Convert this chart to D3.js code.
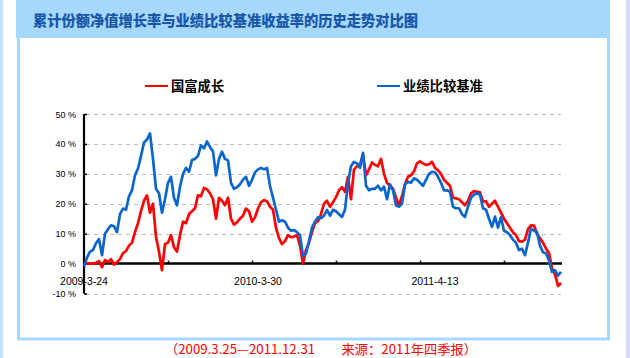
<!DOCTYPE html>
<html><head><meta charset="utf-8">
<script src="https://cdn.jsdelivr.net/npm/d3@7"></script>
<style>body{margin:0;background:#fff;overflow:hidden}svg{display:block}</style>
</head><body><svg id="c" width="630" height="358"></svg>
<script>
const titleText = "累计份额净值增长率与业绩比较基准收益率的历史走势对比图";
const seriesNames = ["国富成长", "业绩比较基准"];
const footnote = "（2009.3.25—2011.12.31　　来源：2011年四季报）";
const yTicks = [-10, 0, 10, 20, 30, 40, 50];
const xTickLabels = ["2009-3-24", "2010-3-30", "2011-4-13"];
const xTickLabelIndex = [0, 58, 117];
const xTickIndex = [0, 28, 56, 84, 112, 140];

const fundValues = [
0,0,0,0,0.3,0.8,-1.2,1.2,0.5,1.5,-0.3,0.5,1.5,3.5,4.2,6,7,10.5,13.5,17.5,
21,22.8,17,20,9,4,-2.2,6.5,7,9.5,5.5,4,9.5,14,13.5,16.5,17.5,18.5,22.8,22.5,
25.3,24.8,23.5,21.5,15,22,21,19.5,22,15,13,13.8,15,16,18.4,17.5,14,15.5,18.4,20.5,
21.2,20.8,19,18,12,8.5,6.5,7.5,9.5,8.8,9,9.5,6,0,4.5,7,10.5,13.5,14.2,16.5,
20,21,19,20.5,22.2,24.5,25.5,24,29,21.5,31.5,32.5,33,36.5,29.5,31.5,33.8,33,32.5,35,
30,27,26,25,22,19.5,22.5,26.5,29,29.5,30.8,33.5,34.2,33.5,33,33.2,34,32,31.2,30,
28,27,26,22,21.8,21.5,20.5,19.5,21,23.5,24.2,24,23.8,20.8,20.8,19,20,21,19,17,
15,13.5,12,10.5,9.5,7.5,7.3,8,11.5,12.8,12.7,10,8.5,7,5,3.5,-1.5,-3.5,-7.5,-6.5
];
const benchValues = [
-1,2,4,4.5,6.8,8.2,2.8,10,11.5,12.8,12.5,10.5,16.5,18.4,18,22.5,24.5,29.5,31.8,36,
40.5,41.5,43.5,35,25,23.5,17,21.5,27,29,22,19.5,25.7,30,32,30.7,34.6,35,36,39.5,
38.5,40.8,39,37.5,29.5,35,37.4,35,34.5,27,25,25.5,26.5,28,29,26,28,30.5,31.5,32,
31.5,32,26,22,18,14,14.5,14,12,11,11.2,10.5,9.5,2.5,3.3,7.5,12,14,15.5,15.2,
16,17.9,16,18,17.5,16.5,15.6,18,27,32.5,34,33.5,32,37,26,24.5,25,25,26,24.5,
25.7,21.5,26.5,24.5,19.5,19,20,26.5,27.3,27,28.5,28,27,26,28,30,30.7,30.5,29,27,
24.5,24.5,24,19,18.5,18.5,16.5,15.6,19,22,23,23.5,23,18.5,18,15,12.3,15.7,12,15.5,
11,10.5,9.5,8,6.9,4.5,5,2.8,7,11.7,11,10.5,6,3.8,3.4,1,-2.8,-2.2,-4,-2.8
];

const svg = d3.select("#c");
const lightBlue = "#a6d7fc";

// outer stripes
svg.append("rect").attr("x",0).attr("y",0).attr("width",3).attr("height",358).attr("fill","#c4e2fb");
svg.append("rect").attr("x",626).attr("y",0).attr("width",4).attr("height",358).attr("fill","#d2dcf6");

// panel
svg.append("rect").attr("x",18.5).attr("y",36).attr("width",590).attr("height",303)
  .attr("fill","#fff").attr("stroke",lightBlue).attr("stroke-width",3);
// title bar
svg.append("rect").attr("x",16).attr("y",0).attr("width",594).attr("height",38).attr("fill",lightBlue);
svg.append("text").attr("x",33).attr("y",26).text(titleText)
  .attr("font-family","'Noto Sans CJK SC', sans-serif").attr("font-weight","900")
  .attr("font-size",14.5).attr("fill","#1a57a8")
  .attr("textLength",385).attr("lengthAdjust","spacingAndGlyphs");

// scales
const n = fundValues.length;
const x = d3.scaleLinear().domain([0, n-1]).range([84, 561]);
const y = d3.scaleLinear().domain([-10, 50]).range([293.5, 114]);

// gridlines
const g = svg.append("g");
g.selectAll("line.grid").data(yTicks.filter(v => v !== 0)).join("line")
  .attr("x1", 86).attr("x2", 561)
  .attr("y1", d => Math.round(y(d)) + 0.5).attr("y2", d => Math.round(y(d)) + 0.5)
  .attr("stroke", "#bdbdbd").attr("stroke-width", 1).attr("stroke-dasharray", "4,4");

// y axis
const yAxis = d3.axisRight(y).tickValues(yTicks).tickSize(3).tickFormat("");
const ya = svg.append("g").attr("transform","translate(84,0)").call(yAxis);
ya.select(".domain").attr("stroke","#000").attr("stroke-width",2.2).attr("d","M0,"+y(50)+"V"+y(-10));
ya.selectAll(".tick line").attr("stroke","#000").attr("stroke-width",1.5);
svg.append("g").selectAll("text").data(yTicks).join("text")
  .attr("x", 76).attr("y", d => y(d) + 3.5).attr("text-anchor","end")
  .attr("font-family","Arial, 'Liberation Sans', sans-serif").attr("font-size",9)
  .attr("fill","#000").text(d => d + " %");

// x axis
const xAxis = d3.axisTop(x).tickValues(xTickIndex).tickSize(3).tickFormat("");
const xa = svg.append("g").attr("transform","translate(0," + y(0) + ")").call(xAxis);
xa.select(".domain").attr("stroke","#000").attr("stroke-width",2.5).attr("d","M84,0H562");
xa.selectAll(".tick line").attr("stroke","#000").attr("stroke-width",1.5);
svg.append("g").selectAll("text").data(xTickLabels).join("text")
  .attr("x", (d,i) => x(xTickLabelIndex[i])).attr("y", 284.5).attr("text-anchor","middle")
  .attr("font-family","Arial, 'Liberation Sans', sans-serif").attr("font-size",10.5)
  .attr("fill","#000").text(d => d);

// lines
const line = d3.line().x((d,i) => x(i)).y(d => y(d));
svg.append("path").datum(fundValues).attr("d", line)
  .attr("fill","none").attr("stroke","#ff0000").attr("stroke-width",2.7).attr("stroke-linejoin","round");
svg.append("path").datum(benchValues).attr("d", line)
  .attr("fill","none").attr("stroke","#0a66cc").attr("stroke-width",2.7).attr("stroke-linejoin","round");

// legend
const legend = [
  {name: seriesNames[0], color: "#ff0000", x0: 145},
  {name: seriesNames[1], color: "#0a66cc", x0: 377}
];
const lg = svg.append("g").selectAll("g").data(legend).join("g");
lg.append("line").attr("x1", d => d.x0).attr("x2", d => d.x0 + 23).attr("y1", 86).attr("y2", 86)
  .attr("stroke", d => d.color).attr("stroke-width", 2);
lg.append("text").attr("x", d => d.x0 + 26).attr("y", 91).text(d => d.name)
  .attr("font-family","'Noto Sans CJK SC', sans-serif").attr("font-weight","bold")
  .attr("font-size",13.3).attr("fill","#000");

// footnote
svg.append("text").attr("x",165).attr("y",354).text(footnote)
  .attr("font-family","'Noto Sans CJK SC', sans-serif").attr("font-size",13)
  .attr("fill","#ff0000").attr("textLength",312).attr("lengthAdjust","spacingAndGlyphs");
</script></body></html>
